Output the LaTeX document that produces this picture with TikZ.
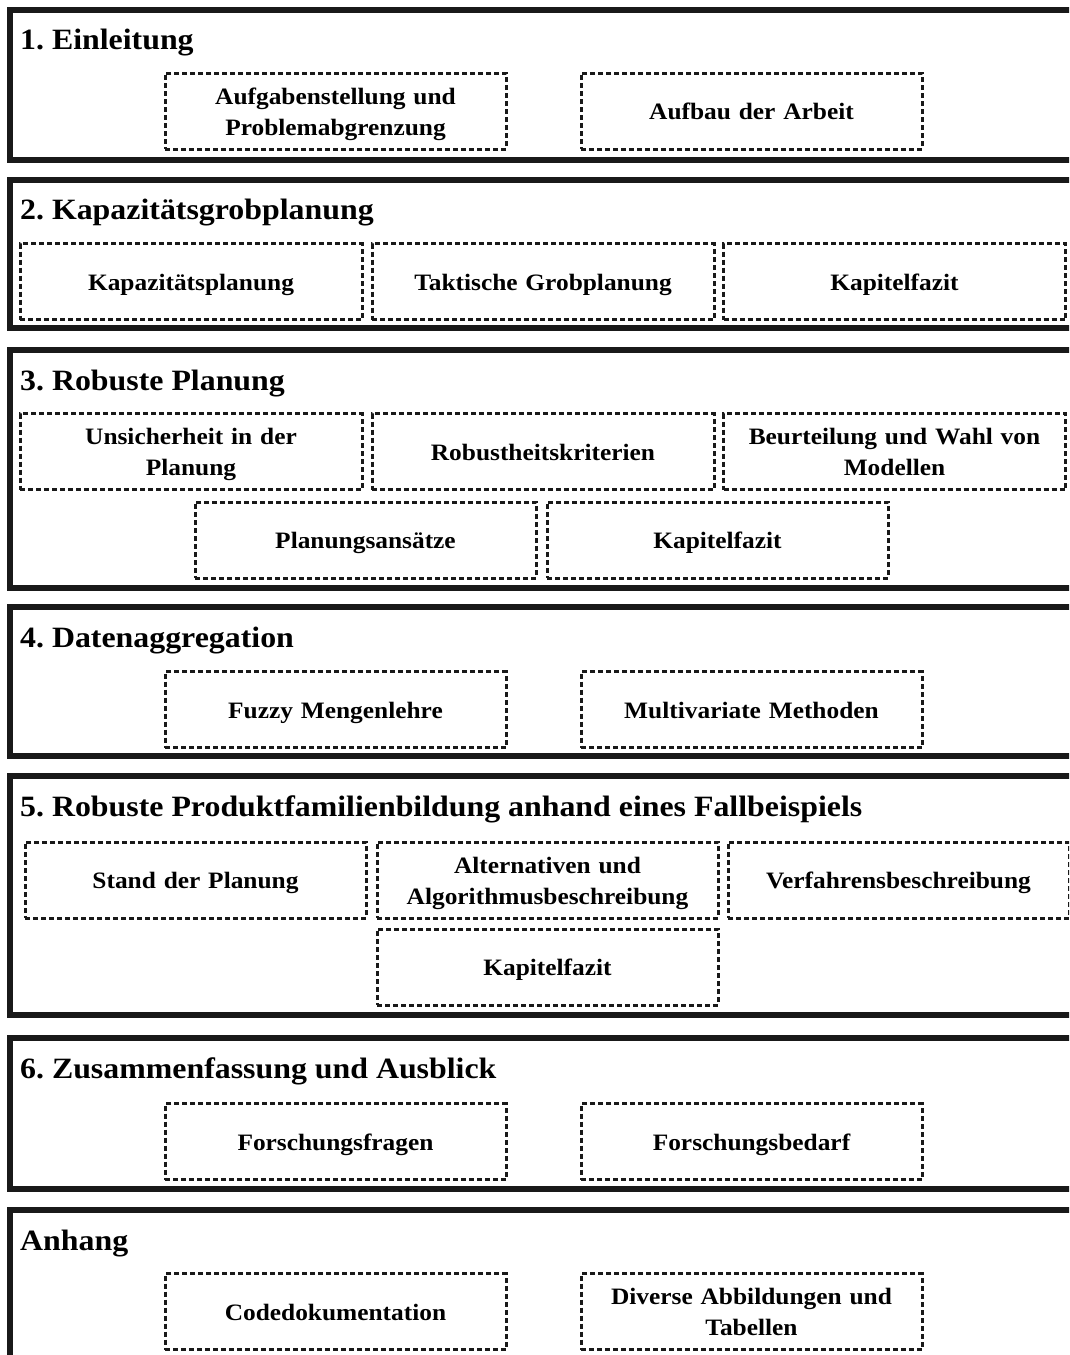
\documentclass[tikz,border=0pt]{standalone}
\usepackage{fontspec}
\setmainfont[FakeStretch=1.08]{Liberation Serif}
% strut with a little more height than depth, to sit the lines slightly lower
\newcommand{\partstrut}{\rule[-6.8pt]{0pt}{31pt}}
\begin{document}
\frenchspacing
\begin{tikzpicture}[x=1pt,y=-1pt,
  frame/.style={line width=6pt,draw=black!90},
  chaptitle/.style={anchor=base west,inner sep=0pt,font=\bfseries\fontsize{29.5}{34}\selectfont},
  part/.style={draw=black!90,line width=3pt,dash pattern=on 5pt off 3pt,
    minimum width=341pt,minimum height=76pt,inner sep=0pt,align=center,
    text width=335pt,font=\bfseries\fontsize{23.5}{31}\selectfont,
    execute at begin node=\partstrut,execute at end node=\partstrut}]
\useasboundingbox (0,0) rectangle (1069,1355);
\clip (0,0) rectangle (1069,1355);
% chapter frames, open towards the right edge
\foreach \t/\b in {9.5/160,179.5/328,350/587.5,607/756,776/1015,1038/1189,1210/1420}
  \draw[frame] (1120,\t) -- (9.5,\t) -- (9.5,\b) -- (1120,\b);
% chapter headings
\node[chaptitle] (t1) at (20,49) {1. Einleitung};
\node[chaptitle] (t2) at (20,219) {2. Kapazitätsgrobplanung};
\node[chaptitle] (t3) at (20,390) {3. Robuste Planung};
\node[chaptitle] (t4) at (20,647) {4. Datenaggregation};
\node[chaptitle] (t5) at (20,816) {5. Robuste Produktfamilienbildung anhand eines Fallbeispiels};
\node[chaptitle] (t6) at (20,1078) {6. Zusammenfassung und Ausblick};
\node[chaptitle] (t7) at (20,1250) {Anhang};
% 1
\node[part] (a1) at (335.5,111) {Aufgabenstellung und\\Problemabgrenzung};
\node[part] (a2) at (751.5,111) {Aufbau der Arbeit};
% 2
\node[part,minimum width=342pt] (b1) at (191,281.5) {Kapazitätsplanung};
\node[part,minimum width=342pt] (b2) at (543,281.5) {Taktische Grobplanung};
\node[part,minimum width=342pt] (b3) at (894.5,281.5) {Kapitelfazit};
% 3
\node[part,minimum width=342pt] (c1) at (191,451.5) {Unsicherheit in der\\Planung};
\node[part,minimum width=342pt] (c2) at (543,451.5) {Robustheitskriterien};
\node[part,minimum width=342pt] (c3) at (894.5,451.5) {Beurteilung und Wahl von\\Modellen};
\node[part] (c4) at (365.5,540) {Planungsansätze};
\node[part] (c5) at (717.5,540) {Kapitelfazit};
% 4
\node[part] (d1) at (335.5,709.5) {Fuzzy Mengenlehre};
\node[part] (d2) at (751.5,709.5) {Multivariate Methoden};
% 5
\node[part] (e1) at (195.5,880) {Stand der Planung};
\node[part] (e2) at (547.5,880) {Alternativen und\\Algorithmusbeschreibung};
\node[part] (e3) at (898.5,880) {Verfahrensbeschreibung};
\node[part] (e4) at (547.5,967) {Kapitelfazit};
% 6
\node[part] (f1) at (335.5,1141.5) {Forschungsfragen};
\node[part] (f2) at (751.5,1141.5) {Forschungsbedarf};
% Anhang
\node[part] (g1) at (335.5,1311.5) {Codedokumentation};
\node[part] (g2) at (751.5,1311.5) {Diverse Abbildungen und\\Tabellen};
\end{tikzpicture}
\end{document}
